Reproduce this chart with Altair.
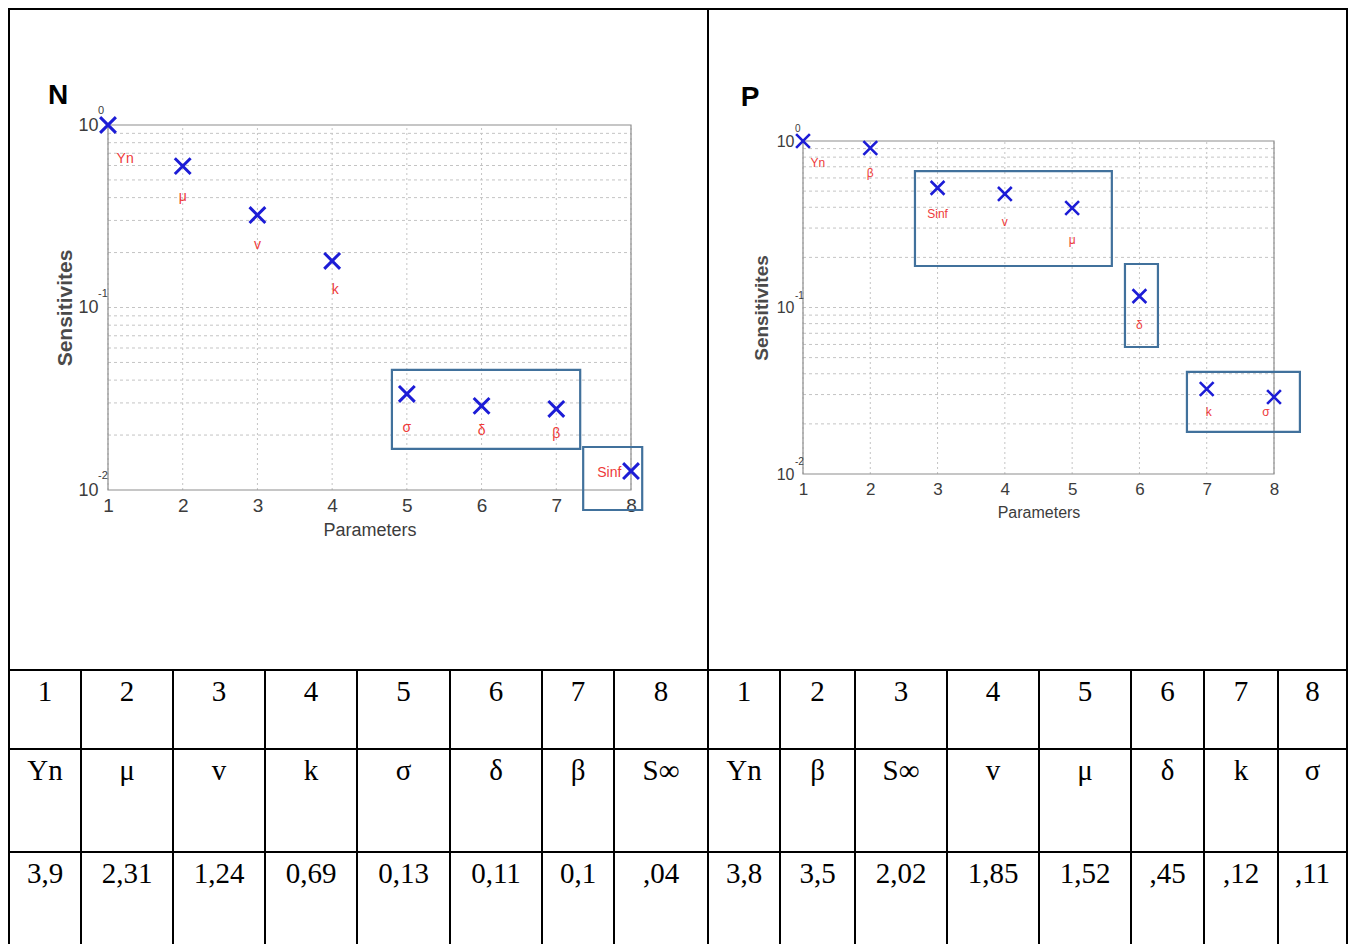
import altair as alt
import pandas as pd

# ---------------- data ----------------
PARAMS = [1, 2, 3, 4, 5, 6, 7, 8]

# N panel
N_SENS = [1.0, 0.595, 0.321, 0.18, 0.0336, 0.0289, 0.0278, 0.0127]
N_NAMES = ["Yn", "μ", "v", "k", "σ", "δ", "β", "Sinf"]
N_LABEL_X = [1.23, 2.0, 3.0, 4.04, 5.0, 6.0, 7.0, 7.71]
N_LABEL_Y = [0.652, 0.403, 0.22, 0.1247, 0.0219, 0.0211, 0.0203, 0.0124]
N_BOX_X1 = [4.80, 7.36]
N_BOX_X2 = [7.32, 8.15]
N_BOX_Y1 = [0.0455, 0.0172]
N_BOX_Y2 = [0.0168, 0.00777]

# P panel
P_SENS = [1.0, 0.908, 0.523, 0.481, 0.396, 0.117, 0.0324, 0.029]
P_NAMES = ["Yn", "β", "Sinf", "v", "μ", "δ", "k", "σ"]
P_LABEL_X = [1.22, 2.0, 3.0, 4.0, 5.0, 6.0, 7.03, 7.88]
P_LABEL_Y = [0.738, 0.642, 0.364, 0.326, 0.254, 0.0785, 0.0236, 0.0236]
P_BOX_X1 = [2.664, 5.785, 6.706]
P_BOX_X2 = [5.59, 6.275, 8.385]
P_BOX_Y1 = [0.66, 0.1825, 0.041]
P_BOX_Y2 = [0.1775, 0.0579, 0.0179]

Y_TICKS = [0.01, 0.1, 1.0]
Y_EXPONENTS = ["-2", "-1", "0"]
Y_MINOR = [0.02, 0.03, 0.04, 0.05, 0.06, 0.07, 0.08, 0.09, 0.1,
           0.2, 0.3, 0.4, 0.5, 0.6, 0.7, 0.8, 0.9]

# table
TABLE_INDEX = ["1", "2", "3", "4", "5", "6", "7", "8"]
TABLE_N_NAMES = ["Yn", "μ", "v", "k", "σ", "δ", "β", "S∞"]
TABLE_N_VALUES = ["3,9", "2,31", "1,24", "0,69", "0,13", "0,11", "0,1", ",04"]
TABLE_P_NAMES = ["Yn", "β", "S∞", "v", "μ", "δ", "k", "σ"]
TABLE_P_VALUES = ["3,8", "3,5", "2,02", "1,85", "1,52", ",45", ",12", ",11"]

# ---------------- layout / style ----------------
SANS = "Liberation Sans"
SERIF = "Liberation Serif"
BLUE = "#1c1cd6"
RED = "#ee3a3a"
BOXC = "#41719c"
GRID = "#c4c4c4"
FRAME = "#8e8e8e"
AXC = "#3c3c3c"
XSHAPE = "M-1,-1L1,1M-1,1L1,-1"

CELL_H = 661
ROW_H = [79, 103, 92]
COL_W_N = [72, 92, 92, 92, 93, 92, 72, 94]
COL_W_P = [72, 75, 92, 92, 92, 73, 74, 69]
TEXT_BASE = 31
TABLE_FS = 29

N_STYLE = dict(width=699, xr=[99, 622], yr=[481, 116], tick_fs=19, title_fs=18,
               ytitle_fs=21, ten_fs=18, exp_fs=11, lab_fs=14, marker=250, mw=3,
               xpad=15, xtpad=6, ypad=10, ytpad=2, exp_dx=-10, exp_dy=-14,
               letter="N", lx=49, ly=87)
P_STYLE = dict(width=639, xr=[95, 566], yr=[465, 132], tick_fs=17, title_fs=16,
               ytitle_fs=19, ten_fs=16, exp_fs=10, lab_fs=12, marker=190, mw=2.6,
               xpad=15, xtpad=7, ypad=9, ytpad=5, exp_dx=-8, exp_dy=-12,
               letter="P", lx=42, ly=89)


def sens_cell(sens, names, lab_x, lab_y, bx1, bx2, by1, by2, st):
    xs = alt.Scale(domain=[1, 8], range=st["xr"], nice=False, zero=False)
    ys = alt.Scale(type="log", domain=[0.01, 1], range=st["yr"], nice=False)

    x_axis = alt.Axis(values=PARAMS, format="d", offset=-(CELL_H - st["yr"][0]),
                      domain=False, ticks=False, tickSize=0, grid=False,
                      labelFlush=False, labelOverlap=False,
                      labelPadding=st["xpad"], labelBaseline="middle",
                      labelFont=SANS, labelFontSize=st["tick_fs"], labelColor=AXC,
                      title="Parameters", titleFont=SANS, titleFontSize=st["title_fs"],
                      titleFontWeight="normal", titleColor=AXC,
                      titlePadding=st["xtpad"])
    y_axis = alt.Axis(values=Y_TICKS, labelExpr="'10'", offset=-st["xr"][0],
                      domain=False, ticks=False, tickSize=0, grid=False,
                      labelOverlap=False, labelPadding=st["ypad"],
                      labelFont=SANS, labelFontSize=st["ten_fs"], labelColor=AXC,
                      title="Sensitivites", titleFont=SANS,
                      titleFontSize=st["ytitle_fs"], titleFontWeight="bold",
                      titleColor="#4a4a4a", titlePadding=st["ytpad"])

    def X(f):
        return alt.X(f, type="quantitative", scale=xs, axis=x_axis)

    def Y(f):
        return alt.Y(f, type="quantitative", scale=ys, axis=y_axis)

    pts = pd.DataFrame({"param": PARAMS, "sens": sens})
    labs = pd.DataFrame({"lx": lab_x, "ly": lab_y, "name": names})
    boxes = pd.DataFrame({"x1": bx1, "x2": bx2, "y1": by1, "y2": by2})
    vgrid = pd.DataFrame({"gx": PARAMS, "lo": [0.01] * 8, "hi": [1.0] * 8})
    hgrid = pd.DataFrame({"gy": Y_MINOR, "lo": [1] * len(Y_MINOR), "hi": [8] * len(Y_MINOR)})
    frame = pd.DataFrame({"x1": [1], "x2": [8], "y1": [0.01], "y2": [1.0]})
    exps = pd.DataFrame({"ex": [1, 1, 1], "ey": Y_TICKS, "e": Y_EXPONENTS})
    letter = pd.DataFrame({"t": [st["letter"]]})

    l_hgrid = alt.Chart(hgrid).mark_rule(color=GRID, strokeDash=[3, 3], strokeWidth=1).encode(
        y=Y("gy"), x=X("lo"), x2=alt.X2("hi"))
    l_vgrid = alt.Chart(vgrid).mark_rule(color=GRID, strokeDash=[2, 3], strokeWidth=1).encode(
        x=X("gx"), y=Y("lo"), y2=alt.Y2("hi"))
    l_frame = alt.Chart(frame).mark_rect(filled=False, stroke=FRAME, strokeWidth=1.2).encode(
        x=X("x1"), x2=alt.X2("x2"), y=Y("y1"), y2=alt.Y2("y2"))
    l_boxes = alt.Chart(boxes).mark_rect(filled=False, stroke=BOXC, strokeWidth=2.2).encode(
        x=X("x1"), x2=alt.X2("x2"), y=Y("y1"), y2=alt.Y2("y2"))
    l_pts = alt.Chart(pts).mark_point(shape=XSHAPE, size=st["marker"], filled=False,
                                      strokeWidth=st["mw"], color=BLUE, opacity=1).encode(
        x=X("param"), y=Y("sens"))
    l_labs = alt.Chart(labs).mark_text(font=SANS, fontSize=st["lab_fs"], color=RED,
                                       align="center", baseline="middle").encode(
        x=X("lx"), y=Y("ly"), text="name:N")
    l_exps = alt.Chart(exps).mark_text(font=SANS, fontSize=st["exp_fs"], color=AXC,
                                       align="left", baseline="middle",
                                       dx=st["exp_dx"], dy=st["exp_dy"]).encode(
        x=X("ex"), y=Y("ey"), text="e:N")
    l_letter = alt.Chart(letter).mark_text(font=SANS, fontSize=28, fontWeight="bold",
                                           color="black", align="center",
                                           baseline="middle").encode(
        x=alt.value(st["lx"]), y=alt.value(st["ly"]), text="t:N")

    return alt.layer(l_hgrid, l_vgrid, l_frame, l_boxes, l_pts, l_labs, l_exps,
                     l_letter).properties(
        width=st["width"], height=CELL_H,
        view=alt.ViewBackground(stroke="black", strokeWidth=2, fill="white"))


def table_half(widths, idx, names, values):
    edges = [0]
    for w in widths:
        edges.append(edges[-1] + w)
    W = edges[-1]
    H = sum(ROW_H)
    row_tops = [0, ROW_H[0], ROW_H[0] + ROW_H[1]]
    rows = [idx, names, values]
    recs = []
    for r, texts in enumerate(rows):
        for c, t in enumerate(texts):
            recs.append({"cx": (edges[c] + edges[c + 1]) / 2,
                         "ty": row_tops[r] + TEXT_BASE, "t": t})
    cells = pd.DataFrame(recs)
    xs = alt.Scale(domain=[0, W], nice=False, zero=False)
    ys = alt.Scale(domain=[0, H], reverse=True, nice=False, zero=False)
    vlines = pd.DataFrame({"x": edges, "y0": [0] * len(edges), "y1": [H] * len(edges)})
    hlines = pd.DataFrame({"y": row_tops[1:], "x0": [0, 0], "x1": [W, W]})

    l_v = alt.Chart(vlines).mark_rule(color="black", strokeWidth=2).encode(
        x=alt.X("x:Q", scale=xs, axis=None),
        y=alt.Y("y0:Q", scale=ys, axis=None), y2="y1:Q")
    l_h = alt.Chart(hlines).mark_rule(color="black", strokeWidth=2).encode(
        y=alt.Y("y:Q", scale=ys, axis=None),
        x=alt.X("x0:Q", scale=xs, axis=None), x2="x1:Q")
    l_t = alt.Chart(cells).mark_text(font=SERIF, fontSize=TABLE_FS, color="black",
                                     align="center", baseline="alphabetic").encode(
        x=alt.X("cx:Q", scale=xs, axis=None),
        y=alt.Y("ty:Q", scale=ys, axis=None), text="t:N")
    return alt.layer(l_v, l_h, l_t).properties(
        width=W, height=H, view=alt.ViewBackground(strokeOpacity=0))


n_cell = sens_cell(N_SENS, N_NAMES, N_LABEL_X, N_LABEL_Y,
                   N_BOX_X1, N_BOX_X2, N_BOX_Y1, N_BOX_Y2, N_STYLE)
p_cell = sens_cell(P_SENS, P_NAMES, P_LABEL_X, P_LABEL_Y,
                   P_BOX_X1, P_BOX_X2, P_BOX_Y1, P_BOX_Y2, P_STYLE)
t_left = table_half(COL_W_N, TABLE_INDEX, TABLE_N_NAMES, TABLE_N_VALUES)
t_right = table_half(COL_W_P, TABLE_INDEX, TABLE_P_NAMES, TABLE_P_VALUES)

chart = alt.concat(n_cell, p_cell, t_left, t_right, columns=2,
                   spacing=0, bounds="flush").properties(
    padding=0, background="white")

chart.save("out.html", embed_options={"renderer": "svg", "actions": False})
